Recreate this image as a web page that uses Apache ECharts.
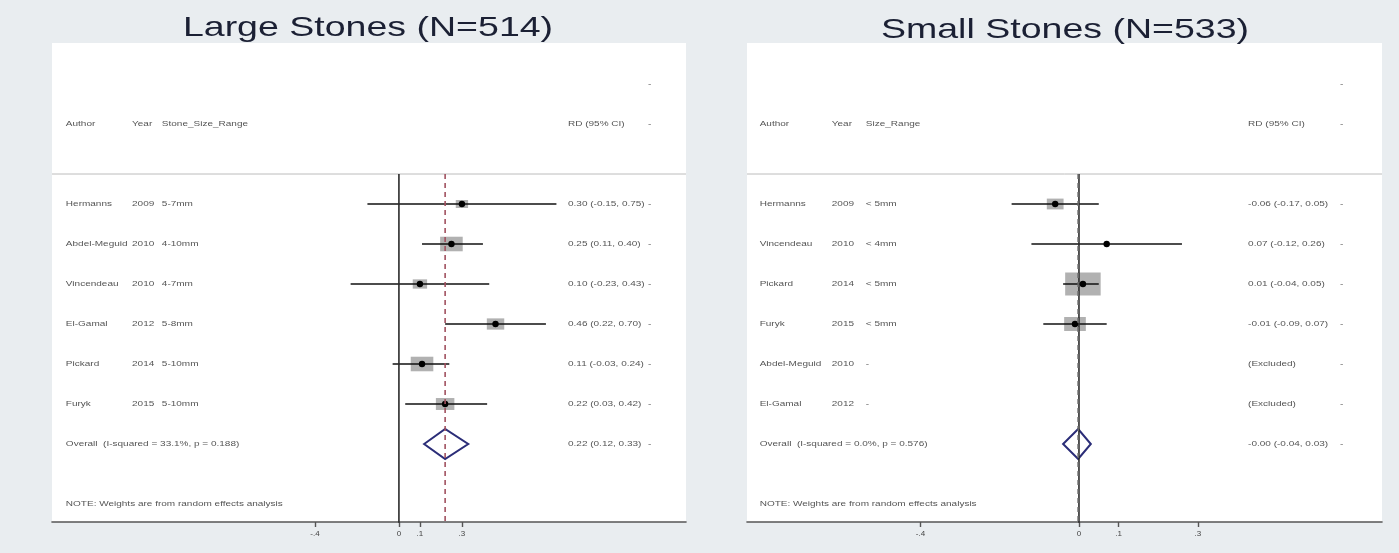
<!DOCTYPE html>
<html>
<head>
<meta charset="utf-8">
<script src="https://cdn.jsdelivr.net/npm/echarts@6/dist/echarts.min.js"></script>
<style>
  html, body { margin: 0; padding: 0; background: #e9edf0; }
  #chart { width: 1399px; height: 553px; }
</style>
</head>
<body>
<div id="chart"></div>
<script>
// Large stones
var largeAuthors = ['Hermanns', 'Abdel-Meguid', 'Vincendeau', 'El-Gamal', 'Pickard', 'Furyk'];
var largeYears = ['2009', '2010', '2010', '2012', '2014', '2015'];
var largeRanges = ['5-7mm', '4-10mm', '4-7mm', '5-8mm', '5-10mm', '5-10mm'];
var largeRd = [0.30, 0.25, 0.10, 0.46, 0.11, 0.22];
var largeLo = [-0.15, 0.11, -0.23, 0.22, -0.03, 0.03];
var largeHi = [0.75, 0.40, 0.43, 0.70, 0.24, 0.42];
var largeWeights = [7.5, 25.2, 10.2, 15.0, 25.2, 16.9];
var largeOverall = [0.22, 0.12, 0.33];
var largeHet = 'Overall  (I-squared = 33.1%, p = 0.188)';

// Small stones
var smallAuthors = ['Hermanns', 'Vincendeau', 'Pickard', 'Furyk', 'Abdel-Meguid', 'El-Gamal'];
var smallYears = ['2009', '2010', '2014', '2015', '2010', '2012'];
var smallRanges = ['< 5mm', '< 4mm', '< 5mm', '< 5mm', '-', '-'];
var smallRd = [-0.06, 0.07, 0.01, -0.01, null, null];
var smallLo = [-0.17, -0.12, -0.04, -0.09, null, null];
var smallHi = [0.05, 0.26, 0.05, 0.07, null, null];
var smallWeights = [13.9, 0.8, 62.2, 23.2, 0, 0];
var smallOverall = [-0.002, -0.04, 0.03];
var smallHet = 'Overall  (I-squared = 0.0%, p = 0.576)';

var xTicks = [-0.4, 0, 0.1, 0.3];

var FONT = '"Liberation Sans", Arial, sans-serif';
var TEXT_COLOR = '#555';
var STRETCH = 1.25; // the source picture is squeezed wider than tall

var chart = echarts.init(document.getElementById('chart'));

function fmt(v) {
  return v.toFixed(2);
}

function ciText(rd, lo, hi) {
  if (rd === null) return '(Excluded)';
  return fmt(rd) + ' (' + fmt(lo) + ', ' + fmt(hi) + ')';
}

// builds all the series for one panel
function panelSeries(idx, p) {
  var n = p.authors.length;
  var texts = [];
  var cols = p.cols;
  function addText(x, row, t) { texts.push({ x: x, row: row, t: t }); }

  addText(cols.dash, -3, '-');
  addText(cols.author, -2, 'Author');
  addText(cols.year, -2, 'Year');
  addText(cols.range, -2, p.rangeHeader);
  addText(cols.rd, -2, 'RD (95% CI)');
  addText(cols.dash, -2, '-');
  for (var i = 0; i < n; i++) {
    addText(cols.author, i, p.authors[i]);
    addText(cols.year, i, p.years[i]);
    addText(cols.range, i, p.ranges[i]);
    addText(cols.rd, i, ciText(p.rd[i], p.lo[i], p.hi[i]));
    addText(cols.dash, i, '-');
  }
  addText(cols.author, n, p.het);
  addText(cols.rd, n, ciText(p.overall[0], p.overall[1], p.overall[2]));
  addText(cols.dash, n, '-');
  addText(cols.author, n + 1.5, 'NOTE: Weights are from random effects analysis');

  var forestData = [];
  for (var j = 0; j < n; j++) {
    if (p.rd[j] !== null) forestData.push([p.rd[j], p.lo[j], p.hi[j], j, p.weights[j]]);
  }

  return [
    {
      type: 'line', xAxisIndex: idx, yAxisIndex: idx, silent: true, symbol: 'none',
      data: [[p.min, -0.75], [p.max, -0.75]],
      lineStyle: { color: '#bcbcbc', width: 1 }
    },
    {
      type: 'line', xAxisIndex: idx, yAxisIndex: idx, silent: true, symbol: 'none',
      data: [[0, -0.75], [0, 8]],
      lineStyle: { color: '#2a2a2a', width: 1.6 }
    },
    {
      type: 'line', xAxisIndex: idx, yAxisIndex: idx, silent: true, symbol: 'none',
      data: [[p.overall[0], -0.75], [p.overall[0], 8]],
      lineStyle: { color: p.refColor, width: 1.6, type: [5, 4] }
    },
    {
      type: 'custom', xAxisIndex: idx, yAxisIndex: idx, silent: true,
      data: forestData,
      renderItem: function (params, api) {
        var pt = api.coord([api.value(0), api.value(3)]);
        var a = api.coord([api.value(1), api.value(3)]);
        var b = api.coord([api.value(2), api.value(3)]);
        var bw = 4.5 * Math.sqrt(api.value(4));
        var bh = bw / 1.55;
        return {
          type: 'group',
          children: [
            { type: 'rect', shape: { x: pt[0] - bw / 2, y: pt[1] - bh / 2, width: bw, height: bh }, style: { fill: '#b1b1b1' } },
            { type: 'line', shape: { x1: a[0], y1: a[1], x2: b[0], y2: b[1] }, style: { stroke: '#111', lineWidth: 1.6 } },
            { type: 'circle', shape: { cx: pt[0], cy: pt[1], r: 3.2 }, style: { fill: '#000' } }
          ]
        };
      }
    },
    {
      type: 'custom', xAxisIndex: idx, yAxisIndex: idx, silent: true,
      data: [[p.overall[0], p.overall[1], p.overall[2], n]],
      renderItem: function (params, api) {
        var row = api.value(3);
        var c = api.coord([api.value(0), row]);
        var a = api.coord([api.value(1), row]);
        var b = api.coord([api.value(2), row]);
        var h = 15;
        return {
          type: 'polygon',
          shape: { points: [[a[0], c[1]], [c[0], c[1] - h], [b[0], c[1]], [c[0], c[1] + h]] },
          style: { fill: 'none', stroke: '#2b2d78', lineWidth: 2 }
        };
      }
    },
    {
      type: 'custom', xAxisIndex: idx, yAxisIndex: idx, silent: true,
      data: texts.map(function (d) { return [d.x, d.row]; }),
      renderItem: function (params, api) {
        var pos = api.coord([api.value(0), api.value(1)]);
        return {
          type: 'text',
          x: pos[0], y: pos[1], scaleX: STRETCH,
          style: {
            text: texts[params.dataIndex].t,
            fill: TEXT_COLOR, font: '8px ' + FONT,
            textAlign: 'left', textVerticalAlign: 'middle'
          }
        };
      }
    }
  ];
}

var largePanel = {
  authors: largeAuthors, years: largeYears, ranges: largeRanges,
  rd: largeRd, lo: largeLo, hi: largeHi, weights: largeWeights,
  overall: largeOverall, het: largeHet, rangeHeader: 'Stone_Size_Range',
  min: -1.652, max: 1.367, refColor: '#a0505f',
  cols: { author: -1.586, year: -1.271, range: -1.129, rd: 0.805, dash: 1.186 }
};
var smallPanel = {
  authors: smallAuthors, years: smallYears, ranges: smallRanges,
  rd: smallRd, lo: smallLo, hi: smallHi, weights: smallWeights,
  overall: smallOverall, het: smallHet, rangeHeader: 'Size_Range',
  min: -0.838, max: 0.765, refColor: '#666',
  cols: { author: -0.806, year: -0.624, range: -0.538, rd: 0.427, dash: 0.659 }
};

function xAxisFor(idx, p) {
  return {
    type: 'value', gridIndex: idx, min: p.min, max: p.max,
    splitLine: { show: false },
    axisLine: { onZero: false, lineStyle: { color: '#555', width: 1.6 } },
    axisTick: { customValues: xTicks, length: 5, lineStyle: { color: '#555', width: 1.4 } },
    axisLabel: {
      customValues: xTicks, fontSize: 8, color: '#444', fontFamily: FONT, margin: 8,
      formatter: function (v) { return v === 0 ? '0' : String(v).replace('0.', '.'); }
    }
  };
}

function yAxisFor(idx) {
  return { type: 'value', gridIndex: idx, min: -4.025, max: 7.95, inverse: true, show: false };
}

function titleText(x, y, text) {
  return {
    type: 'text', x: x, y: y, scaleX: 1.34, silent: true,
    style: {
      text: text, font: '28px ' + FONT, fill: '#1b2034',
      textAlign: 'center', textVerticalAlign: 'middle'
    }
  };
}

chart.setOption({
  animation: false,
  backgroundColor: '#e9edf0',
  graphic: [
    titleText(368, 28, 'Large Stones (N=514)'),
    titleText(1065, 30, 'Small Stones (N=533)')
  ],
  grid: [
    { left: 52, top: 43, width: 634, height: 479, show: true, backgroundColor: '#fff', borderWidth: 0 },
    { left: 747, top: 43, width: 635, height: 479, show: true, backgroundColor: '#fff', borderWidth: 0 }
  ],
  xAxis: [xAxisFor(0, largePanel), xAxisFor(1, smallPanel)],
  yAxis: [yAxisFor(0), yAxisFor(1)],
  series: panelSeries(0, largePanel).concat(panelSeries(1, smallPanel))
});
</script>
</body>
</html>
